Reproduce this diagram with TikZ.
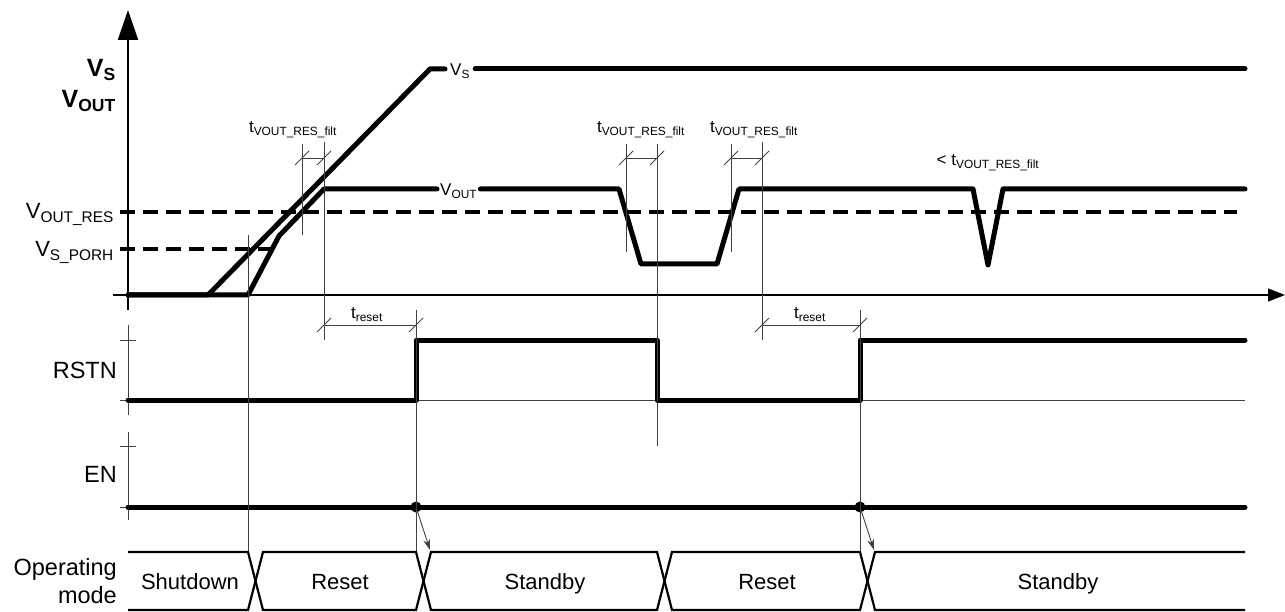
\documentclass[tikz,border=0pt]{standalone}
\usepackage{fontspec}
\setmainfont{Liberation Sans}
\usetikzlibrary{arrows.meta}
\newcommand{\fsz}[1]{\fontsize{#1}{#1}\selectfont}

\begin{document}
\begin{tikzpicture}[x=1pt,y=-1pt,>=Stealth,
  sig/.style={line width=5pt,line join=round,line cap=round},
  bus/.style={line width=2.2pt},
  thin/.style={line width=0.9pt,black!75},
  lvl/.style={line width=4pt,dash pattern=on 15pt off 8pt},
  every node/.style={inner sep=0pt,font=\fsz{22}},
  lbl/.style={anchor=base east},
  ann/.style={anchor=base,font=\fsz{17}}]
\useasboundingbox (0,0) rectangle (1285,612);
% axes
\draw[line width=2pt,-{Triangle[length=30pt,width=20pt]}] (128,310)--(128,10);
\draw[line width=1.2pt,-{Triangle[length=17pt,width=13pt]}] (113,295)--(1285,295);
\draw[thin] (128,325)--(128,415) (120,340)--(136,340) (120,400)--(136,400) (128,400)--(1245,400);
\draw[thin] (128,432)--(128,520) (120,446)--(136,446) (120,507)--(136,507);
% left labels
\node[lbl,font={\fsz{25}\bfseries}](ys) at (116,77){V\textsubscript{S}};
\node[lbl,font={\fsz{25}\bfseries}](yo) at (116,108){V\textsubscript{OUT}};
\node[lbl](vres) at (114,219){V\textsubscript{OUT\_RES}};
\node[lbl](vporh) at (114,257){V\textsubscript{S\_PORH}};
\node[lbl,font=\fsz{23.5}](rstn) at (117,378){RSTN};
\node[lbl,font=\fsz{23.5}](en) at (117,482){EN};
\node[lbl,font=\fsz{23.5}](op1) at (117,575){Operating};
\node[lbl,font=\fsz{23.5}](op2) at (117,603){mode};
% thresholds
\draw[lvl] (120,212)--(1237,212);
\draw[lvl] (120,249)--(280,249);
% supply and output
\node[anchor=west,inner xsep=5pt,font=\fsz{17}](vsl) at (445,71){V\textsubscript{S}};
\node[anchor=west,inner xsep=3pt,font=\fsz{17}](voutl) at (437,191){V\textsubscript{OUT}};
\draw[sig] (128,295)--(208,295)--(430,69)--(vsl.west|-0,69);
\draw[sig] (vsl.east|-0,69)--(1245,69);
\draw[sig] (128,295)--(248,295)--(279,236)--(324,189)--(voutl.west|-0,189);
\draw[sig] (voutl.east|-0,189)--(619,189)--(641,264)--(717,264)--(739,189)--(973,189)--(988,265)--(1003,189)--(1245,189);
% RSTN and EN
\draw[sig] (128,400)--(416,400)--(416,340)--(657,340)--(657,400)--(860,400)--(860,340)--(1245,340);
\draw[sig] (128,507)--(1245,507);
\coordinate (d1) at (416,507);
\coordinate (d2) at (860,507);
\fill (d1) circle (5.5pt) (d2) circle (5.5pt);
% timing marks
\draw[thin] (248,235)--(248,552) (302,144)--(302,235) (324,142)--(324,340) (416,310)--(416,552)
  (626,144)--(626,252) (657,144)--(657,446) (731,144)--(731,252) (762,142)--(762,340) (860,310)--(860,552);
\draw[thin] (302,158)--(324,158) (626,158)--(657,158) (731,158)--(762,158) (324,325)--(416,325) (762,325)--(860,325);
\foreach \x/\y in {302/158,324/158,626/158,657/158,731/158,762/158,324/325,416/325,762/325,860/325}
  \draw[thin] (\x-7,\y+7)--(\x+7,\y-7);
\node[ann](tf1) at (293,133){t\textsubscript{VOUT\_RES\_filt}};
\node[ann](tf2) at (641,133){t\textsubscript{VOUT\_RES\_filt}};
\node[ann](tf3) at (754,133){t\textsubscript{VOUT\_RES\_filt}};
\node[ann](tf4) at (988,166){< t\textsubscript{VOUT\_RES\_filt}};
\node[ann](tr1) at (367,319){t\textsubscript{reset}};
\node[ann](tr2) at (810,319){t\textsubscript{reset}};
\draw[thin,-{Stealth[length=11pt,width=7pt]}] (d1)--(430,550);
\draw[thin,-{Stealth[length=11pt,width=7pt]}] (d2)--(874,550);
% operating mode
\draw[bus] (128,552)--(248,552)--(263,610)--(416,610)--(431,552)--(657,552)--(672,610)--(860,610)--(875,552)--(1245,552);
\draw[bus] (128,610)--(248,610)--(263,552)--(416,552)--(431,610)--(657,610)--(672,552)--(860,552)--(875,610)--(1245,610);
\node[anchor=base](m1) at (190,589){Shutdown};
\node[anchor=base](m2) at (340,589){Reset};
\node[anchor=base](m3) at (545,589){Standby};
\node[anchor=base](m4) at (767,589){Reset};
\node[anchor=base](m5) at (1058,589){Standby};
\end{tikzpicture}
\end{document}
